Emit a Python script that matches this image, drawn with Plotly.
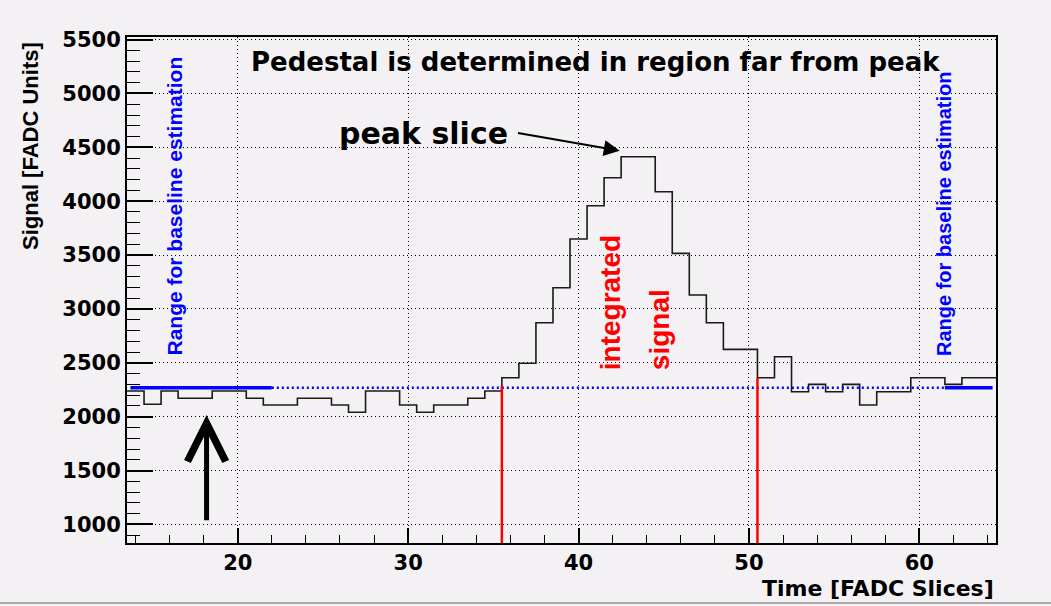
import plotly.graph_objects as go

# ---- data ----
slice_centers = list(range(14, 65))
signal_values = [2238, 2115, 2238, 2171, 2171, 2238, 2238, 2171, 2109, 2109,
                 2171, 2171, 2109, 2041, 2238, 2238, 2109, 2041, 2109, 2109,
                 2171, 2238, 2362, 2496, 2872, 3197, 3649, 3958, 4218, 4413,
                 4413, 4088, 3516, 3129, 2872, 2625, 2625, 2362, 2557, 2232,
                 2300, 2232, 2300, 2109, 2232, 2232, 2362, 2362, 2300, 2362, 2362]
baseline = 2269
baseline_left = [13.7, 22.0]
baseline_right = [61.5, 64.3]
integration_window = [35.5, 50.5]
x_ticks = [20, 30, 40, 50, 60]
y_ticks = [1000, 1500, 2000, 2500, 3000, 3500, 4000, 4500, 5000, 5500]

BG = "#f4f1f4"
HFONT = "DejaVu Sans"
VFONT = "Liberation Sans"
GRID_DASH = "1px,3px"

edges = [c - 0.5 for c in slice_centers] + [slice_centers[-1] + 0.5]
step_y = signal_values + [signal_values[-1]]

fig = go.Figure()

# histogram
fig.add_trace(go.Scatter(x=edges, y=step_y, mode="lines", line_shape="hv",
                         line=dict(color="#1a1a1a", width=1.6),
                         hoverinfo="skip", showlegend=False))
# baseline: solid in estimation ranges, dotted across
fig.add_trace(go.Scatter(x=[baseline_left[1], baseline_right[0]], y=[baseline, baseline],
                         mode="lines", line=dict(color="#0000ff", width=2.5, dash="2px,3px"),
                         showlegend=False, hoverinfo="skip"))
fig.add_trace(go.Scatter(x=baseline_left, y=[baseline, baseline], mode="lines",
                         line=dict(color="#0000ff", width=3.5), showlegend=False, hoverinfo="skip"))
fig.add_trace(go.Scatter(x=baseline_right, y=[baseline, baseline], mode="lines",
                         line=dict(color="#0000ff", width=3.5), showlegend=False, hoverinfo="skip"))

ymin, ymax = 828, 5524
# integration window red lines
red_tops = [2285, signal_values[slice_centers.index(51)]]
for xv, top in zip(integration_window, red_tops):
    fig.add_trace(go.Scatter(x=[xv, xv], y=[ymin, top], mode="lines",
                             line=dict(color="#ff0000", width=2.5),
                             showlegend=False, hoverinfo="skip"))

annotations = [
    dict(text="<b>Pedestal is determined in region far from peak</b>", xref="paper", yref="paper",
         x=0.5386, y=0.9506, xanchor="center", yanchor="middle", showarrow=False,
         font=dict(family=HFONT, size=26, color="black")),
    dict(text="<b>peak slice</b>", xref="paper", yref="paper", x=(423 - 127) / 869, y=(543 - 133) / 506,
         xanchor="center", yanchor="middle", showarrow=False,
         font=dict(family=HFONT, size=30, color="black")),
    dict(text="", x=42.42, y=4468, ax=36.36, ay=4636, xref="x", yref="y", axref="x", ayref="y",
         showarrow=True, arrowhead=2, arrowsize=1.6, arrowwidth=2, arrowcolor="black"),
    dict(text="", x=18.17, y=2016, ax=18.17, ay=1026, xref="x", yref="y", axref="x", ayref="y",
         showarrow=True, arrowhead=5, arrowsize=1.5, arrowwidth=5, arrowcolor="black"),
    dict(text="<b>Range for baseline estimation</b>", x=16.26, y=2545, xref="x", yref="y",
         xanchor="center", yanchor="bottom", textangle=-90, showarrow=False,
         font=dict(family=VFONT, size=21, color="#0000ff")),
    dict(text="<b>Range for baseline estimation</b>", x=61.48, y=2545, xref="x", yref="y",
         xanchor="center", yanchor="bottom", textangle=-90, showarrow=False,
         font=dict(family=VFONT, size=20, color="#0000ff")),
    dict(text="<b>integrated</b>", x=41.89, y=2415, xref="x", yref="y",
         xanchor="center", yanchor="bottom", textangle=-90, showarrow=False,
         font=dict(family=VFONT, size=28, color="#ff0000")),
    dict(text="<b>signal</b>", x=44.76, y=2415, xref="x", yref="y",
         xanchor="center", yanchor="bottom", textangle=-90, showarrow=False,
         font=dict(family=VFONT, size=28, color="#ff0000")),
    dict(text="<b>Signal [FADC Units]</b>", xref="paper", yref="paper", x=(30 - 127) / 869,
         y=(543 - 40) / 506, xanchor="center", yanchor="top", textangle=-90, showarrow=False,
         font=dict(family=VFONT, size=22, color="black")),
    dict(text="<b>Time [FADC Slices]</b>", xref="paper", yref="paper", x=1.0,
         y=(543 - 588) / 506, xanchor="right", yanchor="middle", showarrow=False,
         font=dict(family=HFONT, size=22, color="black")),
]

fig.update_layout(
    width=1051, height=606,
    margin=dict(l=127, r=55, t=37, b=63),
    paper_bgcolor=BG, plot_bgcolor=BG,
    showlegend=False,
    annotations=annotations,
    shapes=[dict(type="line", xref="paper", yref="paper", x0=-0.15, x1=1.07,
                 y0=(543 - 603) / 506, y1=(543 - 603) / 506,
                 line=dict(color="#a8a8a8", width=2))],
)
fig.update_xaxes(range=[13.5, 64.5], tickvals=x_ticks, ticktext=[f"<b>{v}</b>" for v in x_ticks],
                 ticks="inside", ticklen=15, tickwidth=1.5, tickcolor="black",
                 minor=dict(dtick=2, tick0=0, ticks="inside", ticklen=8, tickwidth=1, tickcolor="black",
                            showgrid=False),
                 showgrid=True, gridcolor="black", griddash=GRID_DASH, gridwidth=1,
                 showline=True, linecolor="black", linewidth=2, mirror=True,
                 zeroline=False, tickfont=dict(family=HFONT, size=21, color="black"))
fig.update_yaxes(range=[ymin, ymax], tickvals=y_ticks, ticktext=[f"<b>{v}</b>" for v in y_ticks],
                 ticks="inside", ticklen=26, tickwidth=1.5, tickcolor="black",
                 minor=dict(dtick=100, tick0=0, ticks="inside", ticklen=13, tickwidth=1, tickcolor="black",
                            showgrid=False),
                 showgrid=True, gridcolor="black", griddash=GRID_DASH, gridwidth=1,
                 showline=True, linecolor="black", linewidth=2, mirror=True,
                 zeroline=False, tickfont=dict(family=HFONT, size=21, color="black"))

fig.write_html("out.html")
